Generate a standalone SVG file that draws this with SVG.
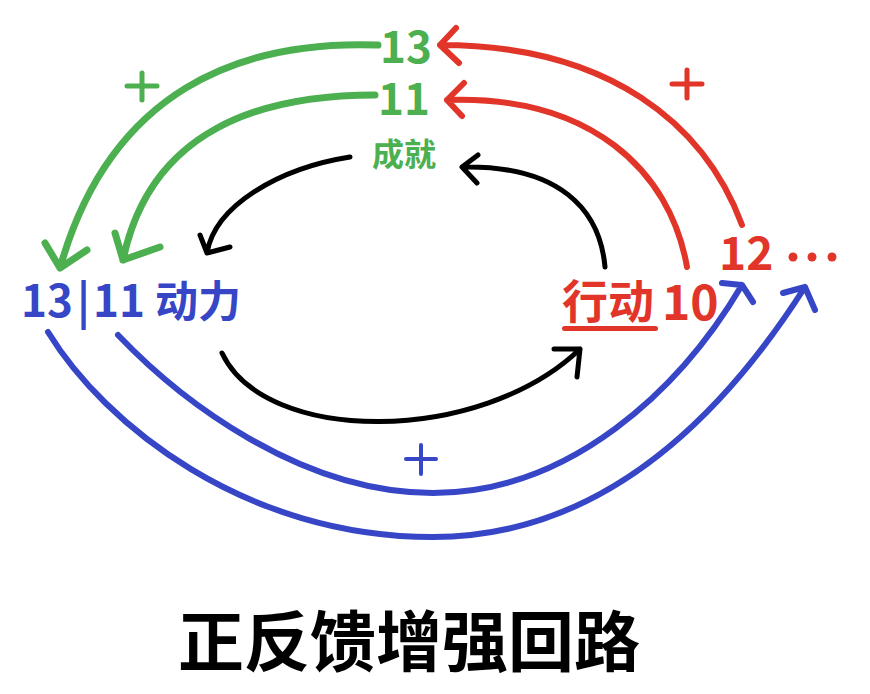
<svg xmlns="http://www.w3.org/2000/svg" width="870" height="694" viewBox="0 0 870 694">
<style>
text{font-family:"Noto Sans CJK SC","Noto Sans",sans-serif;font-weight:700}
.g{fill:#4caf50}.r{fill:#e2352a}.b{fill:#3646c6}
.ln{fill:none;stroke-linecap:round;stroke-linejoin:round}
.lg{stroke:#4caf50;stroke-width:7}
.lr{stroke:#e2352a;stroke-width:6}
.lk{stroke:#000;stroke-width:5}
.lb{stroke:#3646c6;stroke-width:6}
</style>
<rect width="870" height="694" fill="#fff"/>
<g id="connectors">
  <path class="ln lg" d="M378,45 C240,40 110,90 60,268 M45,243 L60,268 L87,250"/>
  <path class="ln lg" d="M375,95 C260,95 150,130 123,260 M115,233 L123,260 L160,247"/>
  <path class="ln lr" d="M742,225 C705,125 610,45 440,45 M456,28 L440,45 L459,63"/>
  <path class="ln lr" d="M687,267 C670,170 590,95 447,100 M464,83 L447,100 L462,116"/>
  <path class="ln lk" d="M350,157 C280,168 215,205 207,253 M200,235 L207,253 L230,247"/>
  <path class="ln lk" d="M605,267 C600,210 560,165 462,167 M478,155 L462,167 L477,183"/>
  <path class="ln lk" d="M222,353 C265,445 480,445 580,349 M554,349 L580,349 L577,377"/>
  <path class="ln lb" d="M48,332 C105,425 245,537 433,537 C600,537 720,420 805,287 M783,293 L805,287 L815,310"/>
  <path class="ln lb" d="M118,335 C180,400 300,493 433,493 C570,493 680,390 742,285 M722,283 L742,285 L753,302"/>
</g>
<g id="plus-green"><path class="ln lg" style="stroke-width:5" d="M127,86 H157 M142,73 V100"/></g>
<g id="plus-red"><path class="ln lr" style="stroke-width:5" d="M672,84 H702 M687,70 V98"/></g>
<g id="plus-blue"><path class="ln lb" style="stroke-width:4" d="M406,459 H436 M421,445 V474"/></g>
<g id="node-achievement">
  <text class="g" x="406" y="63" font-size="44" text-anchor="middle">13</text>
  <text class="g" x="404" y="115" font-size="44" text-anchor="middle">11</text>
  <text class="g" x="404" y="166" font-size="32" text-anchor="middle">成就</text>
</g>
<g id="node-motivation">
  <text class="b" y="317" font-size="44"><tspan x="21">13</tspan><tspan x="77">|</tspan><tspan x="93">11</tspan><tspan x="155" font-size="43">动力</tspan></text>
</g>
<g id="node-action">
  <text class="r" x="562" y="318" font-size="46">行动</text>
  <rect class="r" x="562" y="326" width="96" height="5" rx="2.5"/>
  <text class="r" x="662" y="320" font-size="48">10</text>
  <text class="r" x="719" y="270" font-size="46">12</text>
  <circle class="r" cx="793" cy="257" r="4.5"/>
  <circle class="r" cx="812" cy="257" r="4.5"/>
  <circle class="r" cx="832" cy="257" r="4.5"/>
</g>
<g id="title">
  <text x="409" y="666" font-size="66" font-weight="900" text-anchor="middle" fill="#000">正反馈增强回路</text>
</g>
</svg>
